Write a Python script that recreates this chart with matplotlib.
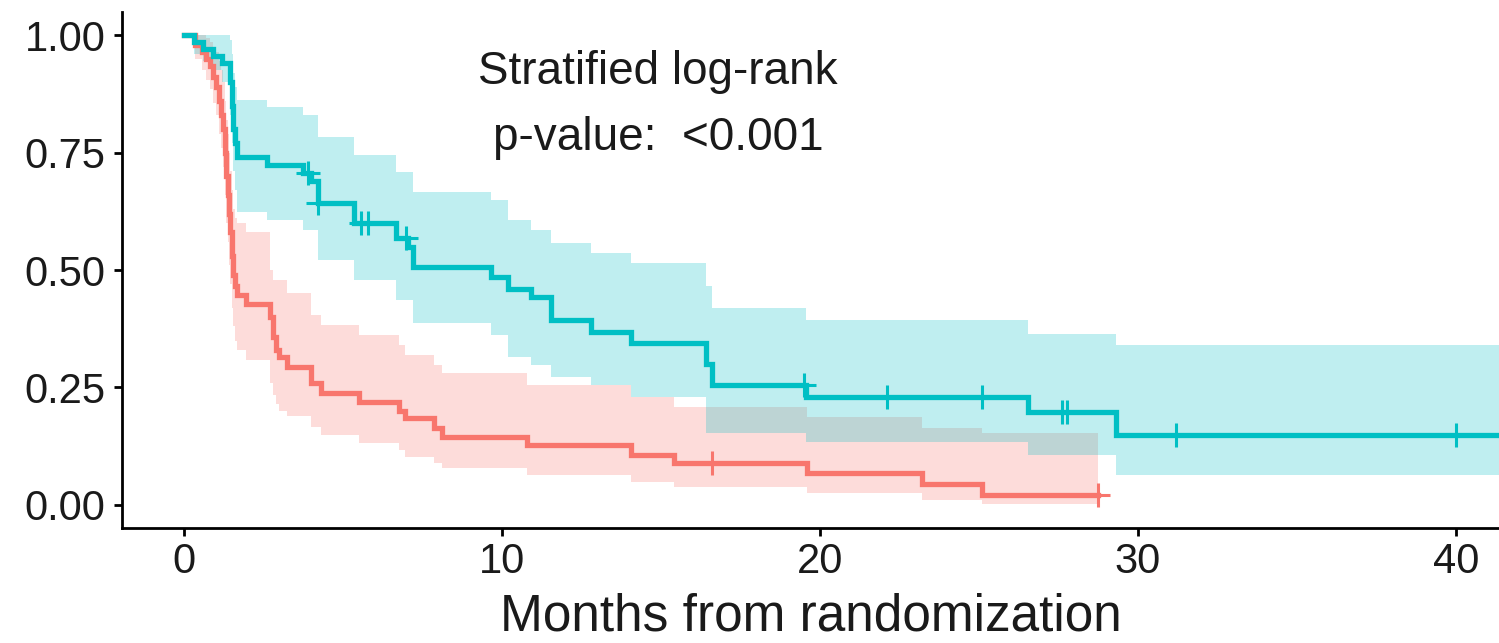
import numpy as np
import matplotlib
matplotlib.use("Agg")
import matplotlib.pyplot as plt

plt.rcParams["font.family"] = ["Liberation Sans", "DejaVu Sans"]

# ---------------- data (months, survival) ----------------
# teal arm: step times, survival after each step, CI upper / lower
teal_t = [0.0, 0.3, 0.6, 0.9, 1.2, 1.45, 1.5, 1.55, 1.6, 1.65, 2.6, 3.75, 4.0, 4.2,
          5.35, 6.65, 7.05, 7.2, 9.65, 10.2, 10.9, 11.55, 12.8, 14.07, 16.4, 16.6,
          19.55, 26.55, 29.3]
teal_s = [1.0, 0.985, 0.97, 0.955, 0.94, 0.90, 0.85, 0.80, 0.77, 0.74, 0.723, 0.706, 0.69, 0.643,
          0.60, 0.568, 0.55, 0.507, 0.485, 0.46, 0.443, 0.394, 0.368, 0.345, 0.30, 0.255,
          0.23, 0.198, 0.149]
teal_hi = [1.0, 1.0, 1.0, 1.0, 1.0, 0.99, 0.96, 0.92, 0.89, 0.862, 0.847, 0.83, 0.83, 0.783,
           0.745, 0.709, 0.709, 0.666, 0.649, 0.606, 0.585, 0.557, 0.536, 0.515, 0.466, 0.419,
           0.394, 0.364, 0.34]
teal_lo = [1.0, 0.96, 0.945, 0.925, 0.90, 0.83, 0.77, 0.71, 0.67, 0.623, 0.606, 0.585, 0.585, 0.521,
           0.479, 0.436, 0.436, 0.387, 0.362, 0.315, 0.298, 0.272, 0.255, 0.23, 0.153, 0.153,
           0.134, 0.106, 0.064]
teal_end = 42.0
teal_cens = [3.9, 4.2, 5.55, 5.77, 6.97, 19.5, 22.1, 25.1, 27.6, 27.75, 31.2, 40.0]

# red arm
red_t = [0.0, 0.35, 0.55, 0.7, 0.82, 0.91, 1.0, 1.1, 1.15, 1.22, 1.28, 1.33, 1.38, 1.42,
         1.46, 1.5, 1.54, 1.6, 1.67, 1.95, 2.7, 2.8, 2.9, 3.0, 3.25, 4.0, 4.3, 5.5,
         6.75, 6.95, 7.85, 8.1, 10.8, 14.07, 15.4, 19.6, 23.2, 25.1]
red_s = [1.0, 0.98, 0.964, 0.95, 0.935, 0.91, 0.89, 0.86, 0.83, 0.80, 0.75, 0.70, 0.66, 0.62,
         0.58, 0.53, 0.49, 0.465, 0.447, 0.428, 0.40, 0.357, 0.33, 0.315, 0.294, 0.26, 0.238, 0.22,
         0.20, 0.185, 0.164, 0.145, 0.128, 0.106, 0.089, 0.068, 0.045, 0.021]
red_hi = [1.0, 1.0, 1.0, 0.995, 0.985, 0.975, 0.965, 0.945, 0.925, 0.90, 0.86, 0.82, 0.79, 0.75,
          0.71, 0.67, 0.63, 0.61, 0.60, 0.581, 0.50, 0.479, 0.479, 0.479, 0.451, 0.404, 0.383, 0.362,
          0.34, 0.319, 0.298, 0.281, 0.255, 0.23, 0.209, 0.187, 0.164, 0.153]
red_lo = [1.0, 0.95, 0.925, 0.905, 0.885, 0.855, 0.83, 0.79, 0.76, 0.72, 0.66, 0.60, 0.56, 0.51,
          0.47, 0.42, 0.38, 0.35, 0.33, 0.309, 0.26, 0.235, 0.215, 0.20, 0.19, 0.166, 0.149, 0.132,
          0.117, 0.102, 0.089, 0.079, 0.064, 0.049, 0.038, 0.025, 0.011, 0.002]
red_end = 28.75
red_cens = [16.6, 28.75]

RED = "#F8766D"
TEAL = "#00BFC4"
TXT = "#1a1a1a"


def surv_at(times, surv, x):
    # value of the step curve at time x
    i = np.searchsorted(times, x, side="right") - 1
    return np.asarray(surv)[i]


fig = plt.figure(figsize=(14.99, 6.43), dpi=100)
ax = fig.add_axes([0.0814, 0.179, 0.9186, 0.802])

arms = [(red_t, red_s, red_hi, red_lo, red_end, red_cens, RED),
        (teal_t, teal_s, teal_hi, teal_lo, teal_end, teal_cens, TEAL)]

# confidence bands first, then the curves on top
for t, s, hi, lo, end, cens, col in arms:
    tt = list(t) + [end]
    ax.fill_between(tt, list(lo) + [lo[-1]], list(hi) + [hi[-1]], step="post",
                    color=col, alpha=0.25, linewidth=0)

for t, s, hi, lo, end, cens, col in arms:
    tt = list(t) + [end]
    ax.step(tt, list(s) + [s[-1]], where="post", color=col, lw=3.8, solid_joinstyle="miter")
    ax.plot(cens, surv_at(t, s, cens), linestyle="none", marker="+", color=col,
            markersize=17, markeredgewidth=2.2)

ax.text(14.9, 0.921, "Stratified log-rank", ha="center", va="center", fontsize=33, color=TXT)
ax.text(14.9, 0.781, "p-value:  <0.001", ha="center", va="center", fontsize=33, color=TXT)

ax.set_xlim(-1.95, 41.35)
ax.set_ylim(-0.049, 1.049)
ax.set_xticks([0, 10, 20, 30, 40])
ax.set_yticks([0, 0.25, 0.5, 0.75, 1.0])
ax.set_yticklabels(["0.00", "0.25", "0.50", "0.75", "1.00"])
ax.tick_params(labelsize=30, length=6, width=2, labelcolor=TXT)
ax.tick_params(axis="x", pad=4)
ax.tick_params(axis="y", pad=6)
ax.set_xlabel("Months from randomization", fontsize=37, color=TXT, labelpad=8)

for side in ["top", "right"]:
    ax.spines[side].set_visible(False)
for side in ["left", "bottom"]:
    ax.spines[side].set_linewidth(2)

fig.savefig("out.png", dpi=100)
